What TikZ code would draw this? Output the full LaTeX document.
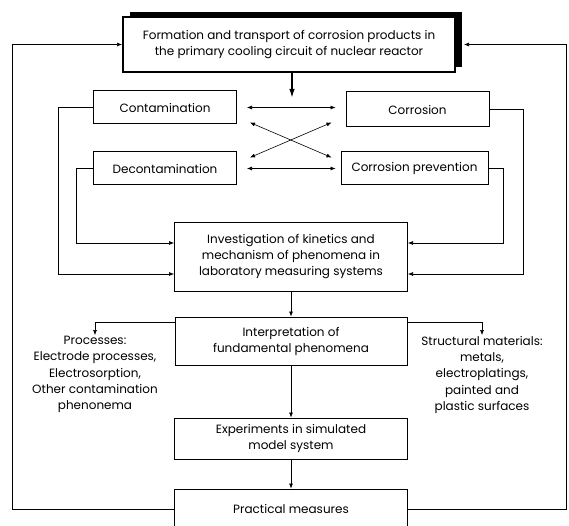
\documentclass[tikz,border=0pt]{standalone}
\usepackage{fontspec}
\setmainfont{Poppins}
\usetikzlibrary{arrows.meta,shadows}

\begin{document}
\begin{tikzpicture}[x=1pt, y=-1pt]
		\tikzset{bx/.style={draw=black, line width=1pt, fill=white, align=center, inner sep=2pt, font=\fontsize{12}{16}\selectfont},
			txt/.style={align=center, inner sep=1pt, font=\fontsize{12}{16.3}\selectfont},
			ar/.style={line width=0.6pt, -{Latex[length=5pt,width=4pt]}},
			dbl/.style={line width=0.6pt, {Latex[length=5pt,width=4pt]}-{Latex[length=5pt,width=4pt]}}};
		\useasboundingbox (0,0) rectangle (569,526);

		\node[bx, line width=2pt, minimum width=332pt, minimum height=55pt, drop shadow={shadow xshift=7pt, shadow yshift=5pt, fill=black, opacity=1}] (top) at (289, 44.5) {Formation and transport of corrosion products in\\the primary cooling circuit of nuclear reactor};
		\node[bx, minimum width=143pt, minimum height=33pt] (cont) at (165, 107.5) {Contamination};
		\node[bx, minimum width=143pt, minimum height=35pt] (corr) at (417.5, 109.5) {Corrosion};
		\node[bx, minimum width=143pt, minimum height=33pt] (decont) at (165, 168.5) {Decontamination};
		\node[bx, minimum width=147pt, minimum height=33pt] (prev) at (414.5, 168.5) {Corrosion prevention};
		\node[bx, minimum width=233pt, minimum height=68pt] (inv) at (291, 257) {Investigation of kinetics and\\mechanism of phenomena in\\laboratory measuring systems};
		\node[bx, minimum width=232pt, minimum height=48pt] (interp) at (291, 341) {Interpretation of\\fundamental phenomena};
		\node[bx, minimum width=233pt, minimum height=41pt] (exp) at (291, 438.5) {Experiments in simulated\\model system};
		\node[bx, minimum width=233pt, minimum height=40pt] (pm) at (291, 509) {Practical measures};
		\node[txt, anchor=north] (proc) at (95, 335) {Processes:\\Electrode processes,\\Electrosorption,\\Other contamination\\phenonema};
		\node[txt, anchor=north] (mat) at (482, 335) {Structural materials:\\metals,\\electroplatings,\\painted and\\plastic surfaces};

		\draw[line width=1.6pt, -{Latex[length=9pt,width=5.5pt]}] ([xshift=3pt]top.south) to ++(0,25);

		\draw[dbl, shorten <=10pt, shorten >=10pt] (cont.east) to (cont.east -| corr.west);
		\draw[dbl, shorten <=10pt, shorten >=5pt] (decont.east) to (prev.west);
		\draw[dbl] ([xshift=13pt, yshift=2pt]cont.south east) to ([xshift=-9pt, yshift=-6pt]prev.north west);
		\draw[dbl] ([xshift=-14pt, yshift=5pt]corr.south west) to ([xshift=13pt, yshift=-6pt]decont.north east);

		\draw[ar] (cont.west) -- ++(-35,0) |- ([yshift=-17pt]inv.west);
		\draw[ar] (decont.west) -- ++(-17,0) |- ([yshift=14pt]inv.west);
		\draw[ar] (corr.east) -- ++(34,0) |- ([yshift=-17pt]inv.east);
		\draw[ar] (prev.east) -- ++(15,0) |- ([yshift=14pt]inv.east);

		\draw[ar] (inv) to (interp);
		\draw[ar] ([yshift=19pt]interp.west) -| (proc.north);
		\draw[ar] ([yshift=19pt]interp.east) -| (mat.north);
		\draw[ar] (interp) to (exp);
		\draw[ar] (exp) to (pm);

		\draw[ar] (pm.west) -- ++(-161.5,0) |- (top.west);
		\draw[ar] (pm.east) -- ++(158,0) |- ([xshift=8pt]top.east);

	\end{tikzpicture}
\end{document}
